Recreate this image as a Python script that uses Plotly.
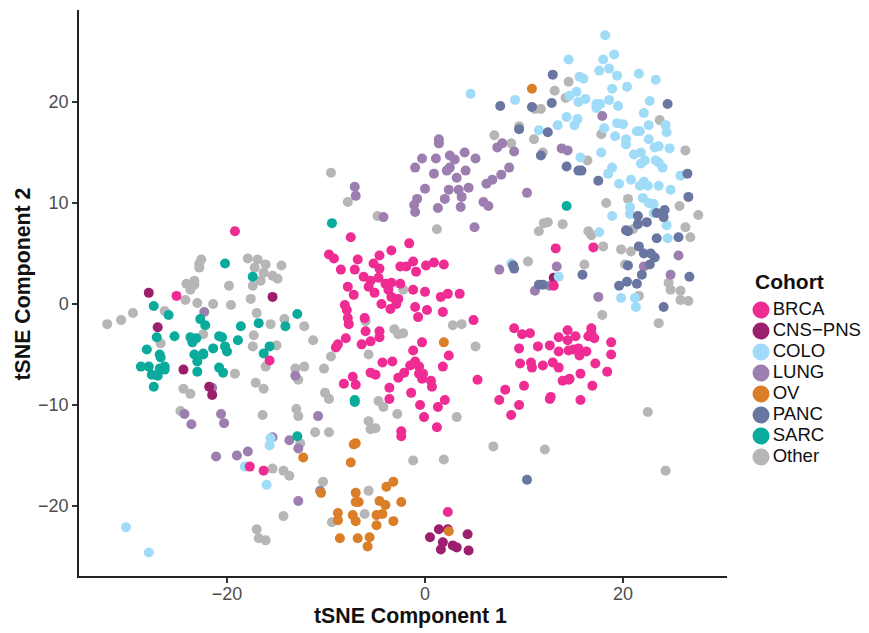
import plotly.graph_objects as go

cohorts = ["BRCA", "CNS−PNS", "COLO", "LUNG", "OV", "PANC", "SARC", "Other"]
colors = {"BRCA": "#EE2C93", "CNS−PNS": "#9C1F6E", "COLO": "#A0DCF8", "LUNG": "#9C7FB0",
          "OV": "#DA7F28", "PANC": "#6A76A2", "SARC": "#0AAB9C", "Other": "#B6B6B6"}

brca_x = [-19.2,-25.1,-15.7,-17.7,-16.3,2.3,13.2,17.0,13.0,-7.5,-1.6,-3.4,-4.6,-9.7,-9.2,-6.8,-8.5,-7.1,-5.2,-4.6,-1.2,-2.5,-1.9,-0.9,0.1,0.9,1.9,-6.2,-5.5,-4.7,-4.0,-3.4,-2.5,-7.8,-5.7,-3.7,-1.2,0.0,-7.2,-5.1,-3.4,-2.7,2.3,1.6,3.5,-8.1,-4.4,-2.9,-3.5,-1.0,0.2,1.8,-7.9,-7.8,-0.7,-6.1,-7.7,4.9,-6.0,-4.6,-4.6,-8.0,-5.5,-6.4,-8.8,-9.0,-0.3,-1.2,-4.3,-3.3,-1.0,-1.5,-0.6,2.4,1.8,-2.1,-2.7,-0.6,-0.2,-0.3,0.6,0.7,5.3,-5.5,-5.0,-7.3,-8.2,-7.0,-3.6,-1.4,-3.6,2.0,-0.5,1.3,-0.1,1.2,-2.4,-2.4,9.0,9.8,10.6,9.5,11.4,12.6,13.5,14.4,15.2,14.4,16.8,16.8,16.5,17.1,18.8,18.8,13.5,14.5,15.0,15.5,16.3,15.6,9.6,10.7,10.8,11.9,12.9,13.5,17.2,18.4,15.7,13.9,14.5,14.6,10.0,8.1,16.9,7.5,9.5,8.7,12.6,12.7,15.7]
brca_y = [7.2,0.8,-5.6,-16.1,-16.5,-20.6,5.5,5.6,1.8,6.6,6.0,5.3,4.8,4.9,4.5,4.4,3.4,3.4,4.0,3.5,4.2,3.7,3.7,3.2,3.8,4.1,3.9,2.7,2.3,2.6,2.0,2.1,2.0,1.7,1.7,1.4,1.4,1.2,0.9,1.1,0.7,0.5,1.0,0.7,1.0,-0.1,0.0,0.0,-0.5,-0.3,-0.6,-0.8,-0.6,-1.4,-1.3,-1.4,-2.0,-1.6,-2.7,-2.7,-3.3,-3.4,-3.7,-4.0,-4.0,-4.3,-3.8,-4.6,-5.8,-5.7,-5.7,-6.1,-6.2,-5.1,-6.2,-6.8,-7.3,-6.9,-6.9,-7.4,-7.6,-8.2,-7.5,-6.8,-7.0,-7.2,-7.9,-8.0,-8.3,-8.8,-9.4,-9.5,-10.0,-10.2,-11.2,-12.2,-12.6,-13.1,-2.4,-3.0,-2.9,-4.4,-4.2,-4.1,-3.3,-2.6,-3.2,-3.6,-2.4,-2.8,-3.2,-3.4,-3.8,-5.0,-4.7,-4.6,-4.5,-4.4,-4.7,-5.1,-5.9,-5.8,-6.3,-6.1,-5.8,-6.3,-5.9,-6.7,-6.9,-7.6,-7.5,-7.4,-8.1,-8.5,-8.1,-9.5,-10.0,-11.0,-9.4,-9.2,-9.5]

cns_x = [-27.9,-27.0,-15.4,-24.4,-21.8,-21.5,1.4,2.3,0.5,4.3,1.8,1.6,2.8,3.2,4.4,13.0]
cns_y = [1.1,-2.3,0.7,-6.5,-8.2,-9.0,-22.3,-22.3,-23.1,-22.8,-23.6,-24.3,-23.9,-24.1,-24.4,2.6]

colo_x = [-30.2,-27.9,-15.7,-18.2,-16.0,-15.6,4.6,18.2,19.1,14.5,18.0,18.6,17.6,19.4,15.6,16.0,21.6,23.3,20.4,18.9,15.3,14.6,15.5,16.2,18.6,17.3,17.7,17.3,19.5,22.7,22.1,9.1,14.3,15.4,15.1,13.4,11.5,18.1,19.4,20.0,22.6,24.3,21.4,21.7,24.4,19.2,20.3,20.3,22.6,23.2,23.6,24.7,21.8,21.1,17.8,15.7,22.2,21.8,23.3,23.6,24.0,18.9,18.5,25.8,19.6,20.8,22.1,21.7,22.5,23.6,24.8,22.0,22.6,23.1,20.7,20.7,18.9,23.1,24.4,17.6,24.5,8.7,13.5,19.8,21.2,21.3]
colo_y = [-22.1,-24.6,-14.0,-16.1,-17.9,-13.3,20.8,26.6,24.7,24.2,24.2,23.3,23.1,22.6,22.5,22.3,22.8,22.2,21.5,21.3,21.0,20.6,20.0,20.3,20.2,19.8,19.8,19.4,19.6,20.1,18.9,20.2,18.5,18.3,17.7,17.7,17.2,17.4,17.9,17.8,17.7,17.7,17.1,17.1,17.0,16.6,16.3,15.8,16.3,15.5,15.6,15.4,15.0,14.8,15.0,14.5,14.2,13.9,14.2,14.0,13.5,13.5,12.9,12.7,11.9,12.3,12.1,11.7,11.7,11.7,11.3,10.5,10.0,9.9,9.6,8.9,8.7,9.0,7.8,7.1,6.5,4.0,2.7,0.6,0.6,-0.3]

lung_x = [-22.3,-13.1,-24.3,-23.6,-20.6,-20.3,-10.8,-15.4,-13.7,-12.8,-17.9,-19.0,-21.1,-12.8,5.0,7.5,-21.5,-10.6,1.4,1.4,-0.3,1.1,2.5,3.0,4.0,5.1,-1.0,0.9,2.2,2.5,4.1,3.2,0.0,2.4,3.4,4.4,3.7,2.0,-0.8,-1.1,-1.0,1.3,3.6,5.9,6.4,6.2,6.8,7.7,8.5,10.3,7.3,7.8,9.0,-7.1,-7.0,-4.2,17.9,13.8,14.4,13.3,12.6,11.1,17.5,25.6,22.1,24.8]
lung_y = [-0.8,-7.1,-10.9,-11.9,-10.9,-11.8,-11.1,-13.2,-13.5,-14.3,-14.6,-15.0,-15.1,-19.5,7.6,3.4,-8.3,-18.5,16.3,15.9,14.4,14.4,14.7,14.3,15.0,14.4,13.5,12.9,13.2,13.5,13.2,12.5,11.4,11.3,11.3,11.5,10.6,10.4,10.4,9.8,9.1,9.5,9.6,10.1,9.7,11.9,12.3,12.8,13.5,11.0,15.5,15.9,15.1,11.6,10.7,8.6,18.6,15.4,15.2,3.7,1.8,1.3,0.7,4.8,3.7,2.9]

ov_x = [10.8,1.9,-12.3,-7.2,-7.0,-7.5,-3.2,-3.9,-10.5,-7.0,-4.6,-2.4,-7.0,-6.7,-4.0,-8.8,-4.3,-4.9,-7.3,-8.8,-7.0,-3.2,-4.9,2.4,-8.6,-6.8,-5.6,-5.8]
ov_y = [21.3,-3.8,-15.2,-13.9,-13.8,-15.7,-17.6,-18.1,-18.7,-18.7,-19.5,-19.6,-19.6,-19.6,-19.9,-20.7,-20.8,-20.9,-20.9,-21.4,-21.5,-21.5,-21.9,-22.5,-23.2,-23.2,-23.1,-24.0]

panc_x = [12.9,7.6,10.8,12.8,24.5,9.5,12.4,11.7,14.3,15.5,15.8,17.5,26.5,26.6,21.5,23.4,24.2,24.1,21.5,22.4,20.3,20.5,23.4,25.6,21.6,22.1,22.8,23.2,22.7,20.5,21.9,21.4,20.4,19.6,15.9,26.7,24.1,8.9,9.0,11.5,11.9,10.3]
panc_y = [22.7,19.6,19.5,19.9,19.8,17.3,17.0,14.7,13.6,13.2,13.2,12.2,12.9,10.6,8.7,9.0,9.3,8.6,7.9,8.1,7.3,7.2,6.5,6.6,5.7,5.0,5.0,4.6,3.9,3.8,2.9,2.0,2.2,1.8,2.9,2.7,-0.3,3.8,3.5,1.9,1.9,-17.4]

sarc_x = [-20.2,-17.4,-27.4,-25.9,-22.7,-22.2,-18.6,-16.8,-12.9,-14.1,-27.1,-25.3,-23.7,-23.1,-23.5,-20.8,-20.5,-18.9,-20.2,-20.0,-21.4,-28.1,-26.8,-26.7,-23.3,-22.4,-22.4,-23.0,-23.0,-20.8,-20.4,-15.7,-16.3,-28.7,-27.9,-26.3,-26.8,-26.3,-27.6,-27.0,-27.4,-7.1,-7.1,-12.9,-9.4,14.3]
sarc_y = [4.0,2.7,-0.2,-1.1,-1.5,-2.1,-2.2,-1.9,-1.0,-2.2,-3.3,-3.2,-3.3,-3.4,-3.8,-3.2,-3.3,-3.6,-4.2,-4.7,-4.4,-4.5,-5.0,-5.3,-5.0,-4.9,-5.0,-5.7,-6.7,-6.3,-6.8,-4.2,-4.9,-6.2,-6.2,-6.2,-6.4,-6.5,-7.0,-7.1,-8.2,-9.7,-9.5,-13.1,8.0,9.7]

other_x = [-22.6,-22.8,-22.8,-17.9,-16.9,-17.2,-16.1,-14.5,-16.3,-15.4,-14.9,-16.6,-17.4,-19.8,-23.3,-24.1,-23.3,-23.7,-24.2,-23.0,-21.4,-19.6,-17.6,-26.3,-29.5,-30.7,-32.1,-17.0,-14.2,-15.6,-12.2,-22.4,-17.3,-26.7,-17.4,-15.0,-11.3,-16.1,-13.1,-12.2,-12.8,-19.2,-17.1,-16.3,-24.4,-23.7,-24.7,-16.4,-13.0,-12.8,-11.1,-12.6,-15.4,-14.3,-13.7,-14.3,-17.0,-16.8,-16.1,-2.2,-6.0,-3.1,-2.2,-2.7,2.8,3.7,5.1,-9.5,-5.7,-10.2,-10.1,-9.7,-4.7,-4.2,-2.8,3.2,-5.7,-5.5,-5.0,-9.7,6.9,-1.2,1.9,-10.3,-5.7,-6.1,-9.4,17.9,23.6,22.5,12.1,24.3,-9.5,-7.8,-4.8,1.2,7.0,8.7,9.5,11.0,14.5,13.1,14.2,11.1,11.7,23.7,17.8,11.9,16.4,26.3,18.3,20.5,25.7,27.6,26.3,26.8,21.0,12.4,12.0,11.5,13.9,16.5,16.8,18.0,19.8,20.8,10.4,16.1,20.2,24.6,24.8,25.8,25.8,26.6,21.6]
other_y = [4.4,4.0,3.6,4.5,4.4,3.6,3.9,3.8,3.1,2.8,2.5,2.3,1.8,1.8,2.3,2.0,1.9,1.4,0.4,0.1,0.0,-0.1,0.5,-0.7,-0.9,-1.6,-2.0,-0.9,-1.5,-2.0,-2.2,-3.0,-3.1,-3.9,-4.2,-4.1,-3.6,-6.2,-6.4,-6.2,-7.5,-6.9,-7.8,-8.4,-8.4,-8.9,-10.6,-11.0,-10.4,-11.1,-12.7,-13.8,-16.3,-16.5,-17.0,-21.0,-22.3,-23.2,-23.4,1.4,-1.7,-2.5,-2.9,-3.0,-2.1,-2.0,-4.2,-5.2,-5.0,-6.4,-8.8,-9.4,-9.6,-10.2,-10.9,-11.2,-11.6,-12.4,-12.3,-12.7,-14.1,-15.5,-15.4,-17.6,-18.5,-20.8,-21.6,-1.1,-1.9,-10.7,-14.4,-16.5,13.0,10.1,8.7,7.4,16.7,15.9,17.6,16.3,22.0,21.1,20.4,19.3,19.3,18.2,16.8,15.0,14.2,15.2,10.0,10.4,9.7,8.8,7.6,6.6,7.4,8.1,8.0,7.2,7.9,7.2,6.8,5.7,5.4,5.2,4.2,3.9,3.9,2.1,1.4,1.3,0.4,0.3,0.8]

series = {"BRCA": (brca_x, brca_y), "CNS−PNS": (cns_x, cns_y), "COLO": (colo_x, colo_y),
          "LUNG": (lung_x, lung_y), "OV": (ov_x, ov_y), "PANC": (panc_x, panc_y),
          "SARC": (sarc_x, sarc_y), "Other": (other_x, other_y)}
draw_order = ["Other", "LUNG", "CNS−PNS", "COLO", "PANC", "OV", "SARC", "BRCA"]

x_ticks = [-20, 0, 20]
y_ticks = [-20, -10, 0, 10, 20]
x_title = "tSNE Component 1"
y_title = "tSNE Component 2"
legend_title = "Cohort"
FONT = "Liberation Sans"

fig = go.Figure()
for name in draw_order:
    xs, ys = series[name]
    fig.add_trace(go.Scatter(x=xs, y=ys, mode="markers", name=name, showlegend=False,
                             marker=dict(size=10, color=colors[name], line=dict(width=0))))

# The legend keys sit on a small categorical panel so their spacing matches the reference.
fig.add_trace(go.Scatter(x=[0.0] * len(cohorts), y=cohorts, mode="markers+text", text=cohorts,
                         textposition="middle right", xaxis="x2", yaxis="y2", showlegend=False,
                         textfont=dict(family=FONT, size=18.6, color="#111111"),
                         marker=dict(size=17, color=[colors[c] for c in cohorts], line=dict(width=0)),
                         cliponaxis=False))

axis_style = dict(showgrid=False, zeroline=False, showline=True, linecolor="#222222", linewidth=1.5,
                  ticks="outside", ticklen=5, tickwidth=1.5, tickcolor="#333333", automargin=False,
                  tickfont=dict(family=FONT, size=18, color="#4D4D4D"))

W, H = 869, 633
plot_left, plot_right, plot_top, plot_bottom = 79, 727, 10, 576
plot_w = W - plot_left
plot_h = plot_bottom - plot_top
main_right = (plot_right - plot_left) / plot_w

def px(value):
    return (value - plot_left) / plot_w

def py(value):
    return (plot_bottom - value) / plot_h

title_font = dict(family=FONT, size=21.3, color="#111111")

fig.update_layout(
    width=W, height=H, autosize=False,
    paper_bgcolor="white", plot_bgcolor="white",
    margin=dict(l=plot_left, r=0, t=plot_top, b=H - plot_bottom, pad=0),
    font=dict(family=FONT),
    hovermode=False,
    xaxis=dict(domain=[0, main_right], range=[-34.95, 30.5], tickvals=x_ticks, ticklabelstandoff=-4, **axis_style),
    yaxis=dict(range=[-26.93, 29.1], tickvals=y_ticks, **axis_style),
    xaxis2=dict(domain=[main_right, 1], range=[-34, 108], visible=False, fixedrange=True),
    yaxis2=dict(anchor="x2", domain=[py(467.5), py(299.5)],
                type="category", categoryorder="array", categoryarray=cohorts,
                range=[7.5, -0.5], visible=False, fixedrange=True),
    annotations=[
        dict(text=f"<b>{x_title}</b>", xref="paper", yref="paper", x=px(410.5), y=py(616),
             xanchor="center", yanchor="middle", showarrow=False, font=title_font),
        dict(text=f"<b>{y_title}</b>", xref="paper", yref="paper", x=px(22), y=py(284.5), textangle=-90,
             xanchor="center", yanchor="middle", showarrow=False, font=title_font),
        dict(text=f"<b>{legend_title}</b>", xref="x2", yref="paper", x=-8, y=py(281),
             xanchor="left", yanchor="middle", showarrow=False,
             font=dict(family=FONT, size=21, color="#111111")),
    ],
)

# Drop the page's default body margin so the figure fills the window exactly.
fig.write_html("out.html", config={"displayModeBar": False},
               post_script="document.body.style.margin='0';document.body.style.overflow='hidden';")
